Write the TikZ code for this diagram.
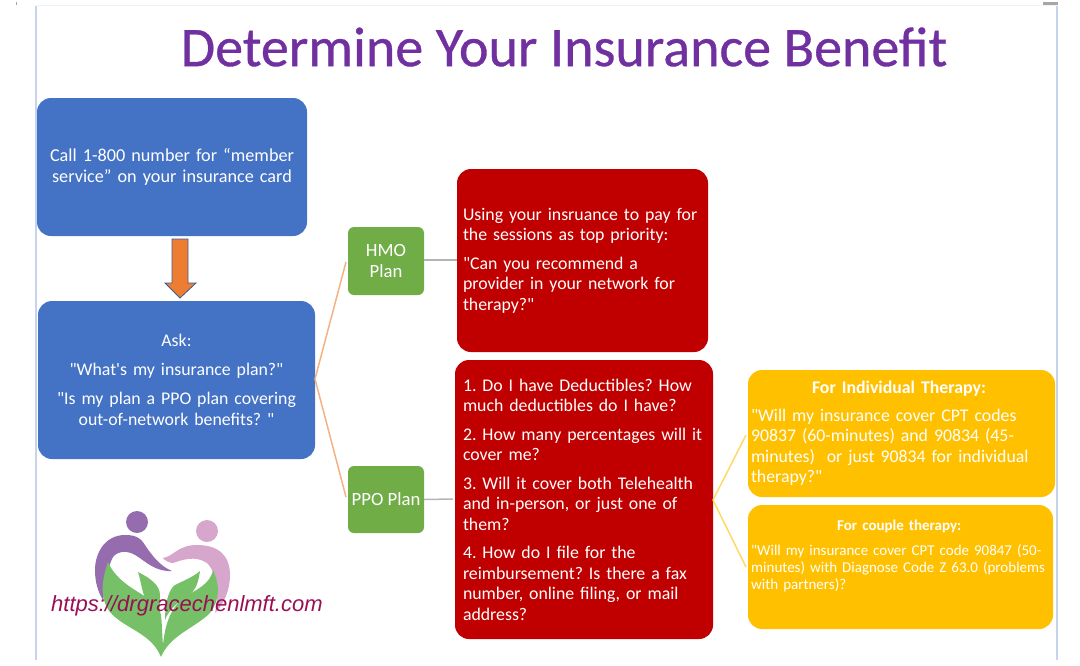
\documentclass[tikz,border=0pt]{standalone}
\usepackage{fontspec}
\newfontfamily\carlito{Carlito}
\newfontfamily\urlfont{Liberation Sans}
\definecolor{boxblue}{HTML}{4472C4}
\definecolor{boxgreen}{HTML}{70AD47}
\definecolor{boxred}{HTML}{C00000}
\definecolor{boxyellow}{HTML}{FFC000}
\definecolor{arroworange}{HTML}{ED7D31}
\definecolor{lineorange}{HTML}{F4B183}
\definecolor{lineyellow}{HTML}{FFD966}
\definecolor{linegray}{HTML}{B4B4B4}
\definecolor{titlepurple}{HTML}{7030A0}
\definecolor{framecolor}{HTML}{C5D3EE}
\definecolor{urlcolor}{HTML}{990F55}
\definecolor{logopurple}{HTML}{956DAF}
\definecolor{logopink}{HTML}{D6A6CC}
\definecolor{logogreen}{HTML}{76C168}
\tikzset{
 box/.style={rounded corners=14pt,inner xsep=6pt,inner ysep=0pt,text=white,align=left,font=\carlito\frenchspacing\fontsize{17.8}{20.5}\selectfont},
 bluebox/.style={box,fill=boxblue,align=center},
 greenbox/.style={box,fill=boxgreen,rounded corners=6pt,align=center,inner xsep=0pt,font=\carlito\fontsize{18.7}{20.5}\selectfont},
 redbox/.style={box,fill=boxred},
 yellowbox/.style={box,fill=boxyellow},
 planline/.style={line width=1.5pt},
}
\begin{document}
\begin{tikzpicture}[x=1pt,y=-1pt]
 \useasboundingbox (0,0) rectangle (1080,665);
 \draw[framecolor,line width=1.2pt](36,6)--(36,660);
 \draw[framecolor,line width=1.2pt](1057,6)--(1057,660);
 \draw[framecolor!30,line width=0.6pt](36,5)--(1057,5);
 \fill[gray!70](1043,2) rectangle (1058,4.5);
 \fill[gray!70](15.5,1.5) rectangle (17,4.5);

 \node[text=titlepurple,font=\carlito\addfontfeature{FakeBold=0.6}\fontsize{56}{64}\selectfont,inner sep=0pt] (title) at (564,47) {Determine Your Insurance Benefit};

 \node[bluebox,text width=258pt,minimum height=138pt,font=\carlito\frenchspacing\fontsize{18.2}{20.5}\selectfont] (call) at (172,167) {Call 1-800 number for “member\\service” on your insurance card};
 \node[bluebox,text width=265pt,minimum height=158pt] (ask) at (176.5,380) {Ask:\\[8pt]"What's my insurance plan?"\\[9pt]"Is my plan a PPO plan covering\\out-of-network benefits? "};
 \node[greenbox,minimum width=76pt,minimum height=68pt] (hmo) at (386,261) {HMO\\Plan};
 \node[greenbox,minimum width=76pt,minimum height=67pt] (ppo) at (386,499.5) {PPO Plan};
 \node[redbox,text width=239pt,minimum height=183pt] (hmoask) at (582.5,260.5) {Using your insruance to pay for\\the sessions as top priority:\\[8pt]"Can you recommend a\\provider in your network for\\therapy?"};
 \node[redbox,inner xsep=8pt,text width=242pt,minimum height=279pt] (ppoask) at (584,499.5) {1. Do I have Deductibles? How\\much deductibles do I have?\\[8pt]2. How many percentages will it\\cover me?\\[8pt]3. Will it cover both Telehealth\\and in-person, or just one of\\them?\\[8pt]4. How do I file for the\\reimbursement? Is there a fax\\number, online filing, or mail\\address?};
 \node[yellowbox,inner xsep=3pt,text width=301pt,minimum height=127pt] (indiv) at (901.5,433.5) {\hspace*{61pt}\textbf{For Individual Therapy:}\\[7pt]"Will my insurance cover CPT codes\\90837 (60-minutes) and 90834 (45-\\minutes)\ \ or just 90834 for individual\\therapy?"};
 \node[yellowbox,minimum width=305pt,minimum height=124pt] (couple) at (900.5,567) {};
 \node[anchor=north west,inner xsep=0pt,inner ysep=0pt,text=white,align=left,text width=299pt,font=\carlito\frenchspacing\fontsize{15}{17}\selectfont] (coupletext) at (751,520) {\hspace*{86pt}\textbf{For couple therapy:}\\[8pt]"Will my insurance cover CPT code 90847 (50-\\minutes) with Diagnose Code Z 63.0 (problems\\with partners)?};

 \coordinate (askout) at (315,379);
 \coordinate (hmoin) at (346,262);
 \coordinate (ppoin) at (346,497);
 \coordinate (hmoout) at (457,260);
 \coordinate (ppoout) at (453,499);
 \coordinate (ppoaskout) at (713,500);
 \coordinate (indivin) at (746,435);
 \coordinate (couplein) at (746,567);
 \draw[planline,lineorange](askout)--(hmoin);
 \draw[planline,lineorange](askout)--(ppoin);
 \draw[planline,linegray](hmo.east |- hmoout)--(hmoout);
 \draw[planline,linegray](ppo.east)--(ppoout);
 \draw[planline,lineyellow](ppoaskout)--(indivin);
 \draw[planline,lineyellow](ppoaskout)--(couplein);

 \draw[fill=arroworange,draw=boxblue!80!black,line width=0.8pt](172,239)--(188,239)--(188,283)--(196,283)--(180,298)--(165,283)--(172,283)--cycle;

 \fill[logopurple](137,522) circle (11);
 \fill[logopink](207,531) circle (11);
 \fill[logopurple](172,571) .. controls (160,566) and (152,556) .. (143,542)
  .. controls (137,535) and (130,535) .. (125,535)
  .. controls (105,535) and (95,553) .. (95,570)
  .. controls (95,582) and (98,592) .. (103,600)
  .. controls (106,590) and (106,570) .. (113,557)
  .. controls (118,551) and (125,551) .. (131,553)
  .. controls (142,557) and (152,572) .. (172,571) -- cycle;
 \fill[logopink](163,558) .. controls (174,556) and (178,545) .. (197,545)
  .. controls (218,545) and (230,555) .. (230,575)
  .. controls (230,590) and (224,604) .. (215,613)
  .. controls (218,600) and (219,575) .. (207,563)
  .. controls (195,555) and (182,560) .. (173,563)
  .. controls (170,563) and (165,561) .. (163,558) -- cycle;
 \fill[logogreen](108,562) .. controls (100,585) and (100,605) .. (115,617)
  .. controls (130,630) and (152,635) .. (161,657)
  .. controls (170,635) and (195,628) .. (210,613)
  .. controls (220,600) and (220,585) .. (213,570)
  .. controls (210,585) and (195,590) .. (185,597)
  .. controls (170,608) and (165,625) .. (163,645)
  .. controls (162,635) and (162,615) .. (160,612)
  .. controls (155,595) and (120,590) .. (108,562) -- cycle;
 \fill[logogreen](138,572) .. controls (150,578) and (160,585) .. (160,595)
  .. controls (160,605) and (159,620) .. (158,625)
  .. controls (153,610) and (145,600) .. (143,592)
  .. controls (141,585) and (140,578) .. (138,572) -- cycle;
 \fill[logogreen](200,571) .. controls (198,585) and (195,592) .. (185,598)
  .. controls (175,604) and (168,612) .. (165,620)
  .. controls (165,605) and (168,590) .. (175,585)
  .. controls (185,580) and (193,577) .. (200,571) -- cycle;

 \node[text=urlcolor,font=\urlfont\itshape\fontsize{22}{26}\selectfont,inner sep=0pt,anchor=base west] (url) at (51,611) {https://drgracechenlmft.com};
\end{tikzpicture}
\end{document}
